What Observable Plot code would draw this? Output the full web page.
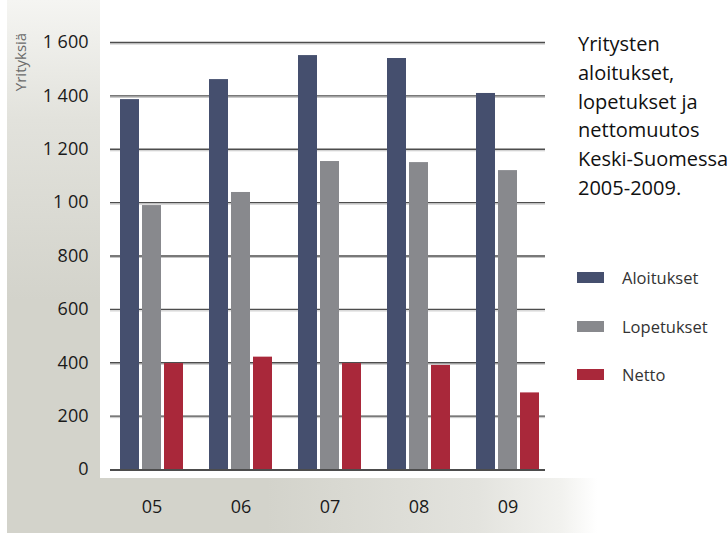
<!DOCTYPE html>
<html>
<head>
<meta charset="utf-8">
<script src="https://cdn.jsdelivr.net/npm/d3@7"></script>
<script src="https://cdn.jsdelivr.net/npm/@observablehq/plot@0.6"></script>
<style>
  html, body { margin: 0; padding: 0; background: #fff; }
  #wrap { position: relative; width: 728px; height: 533px; overflow: hidden; background: #fff; font-family: "Open Sans", sans-serif; }
  #bgLeft { position: absolute; left: 7px; top: 0; width: 93px; height: 533px;
    background: linear-gradient(to bottom, #f5f5f2 0px, #e2e2dc 120px, #d3d3cb 300px, #d3d3cb 533px); }
  #bgBottom { position: absolute; left: 7px; top: 478px; width: 721px; height: 55px;
    background: linear-gradient(to right, #d3d3cb 0px, #d3d3cb 260px, #e3e3de 470px, #f2f2ef 555px, #ffffff 590px); }
  #chart { position: absolute; left: 0; top: 0; }
  #ytitle { position: absolute; left: 20px; top: 62px; transform: translate(-50%, -50%) rotate(-90deg);
    font-size: 15px; color: #6a6a6a; white-space: nowrap; }
  #title { position: absolute; left: 578px; top: 30px; font-size: 20px; line-height: 28.8px; color: #111; white-space: nowrap; }
  #legend { position: absolute; left: 577px; top: 265px; }
  .item { display: flex; align-items: center; height: 25px; margin-bottom: 23.5px; }
  .sw { width: 27px; height: 11px; margin-right: 18px; }
  .lab { font-size: 16.5px; color: #333; }
</style>
</head>
<body>
<div id="wrap">
  <div id="bgLeft"></div>
  <div id="bgBottom"></div>
  <div id="chart"></div>
  <div id="ytitle"></div>
  <div id="title"></div>
  <div id="legend"></div>
</div>
<script>
const years = ["05", "06", "07", "08", "09"];
const aloitukset = [1386, 1461, 1551, 1540, 1409];
const lopetukset = [989, 1038, 1154, 1150, 1120];
const netto = [397, 421, 397, 390, 287];
const seriesNames = ["Aloitukset", "Lopetukset", "Netto"];
const seriesColors = ["#454f6e", "#88898d", "#a9283a"];
const yTicks = [0, 200, 400, 600, 800, 1000, 1200, 1400, 1600];
const yTickLabels = ["0", "200", "400", "600", "800", "1 00", "1 200", "1 400", "1 600"];
const yTitle = "Yrityksiä";
const titleLines = ["Yritysten", "aloitukset,", "lopetukset ja", "nettomuutos", "Keski-Suomessa", "2005-2009."];

const rows = years.map((y, i) => ({year: y, a: aloitukset[i], l: lopetukset[i], n: netto[i]}));

const chart = Plot.plot({
  width: 728,
  height: 533,
  marginLeft: 110,
  marginRight: 183,
  marginTop: 42,
  marginBottom: 64,
  style: {background: "transparent", fontFamily: "'Open Sans', sans-serif", fontSize: "18px", color: "#1a1a1a"},
  x: {domain: years, range: [119, 539], paddingInner: 0.294, paddingOuter: 0, label: null, tickSize: 0, tickPadding: 31},
  y: {domain: [0, 1600], ticks: yTicks, tickFormat: d => yTickLabels[yTicks.indexOf(d)], tickSize: 0, tickPadding: 22, label: null},
  marks: [
    Plot.ruleY(yTicks.filter(d => d > 0), {stroke: "#c4c4c4", strokeWidth: 1, dy: 1.5}),
    Plot.ruleY(yTicks.filter(d => d > 0), {stroke: "#4d4d4d", strokeWidth: 1.3}),
    Plot.barY(rows, {x: "year", y: "a", fill: seriesColors[0], insetRight: 44}),
    Plot.barY(rows, {x: "year", y: "l", fill: seriesColors[1], insetLeft: 22, insetRight: 22}),
    Plot.barY(rows, {x: "year", y: "n", fill: seriesColors[2], insetLeft: 44}),
    Plot.ruleY([0], {stroke: "#111", strokeWidth: 1.6, dy: 0.5})
  ]
});
document.getElementById("chart").appendChild(chart);

document.getElementById("ytitle").textContent = yTitle;
document.getElementById("title").innerHTML = titleLines.map(t => `<div>${t}</div>`).join("");
document.getElementById("legend").innerHTML = seriesNames.map((s, i) =>
  `<div class="item"><div class="sw" style="background:${seriesColors[i]}"></div><span class="lab">${s}</span></div>`).join("");
</script>
</body>
</html>
